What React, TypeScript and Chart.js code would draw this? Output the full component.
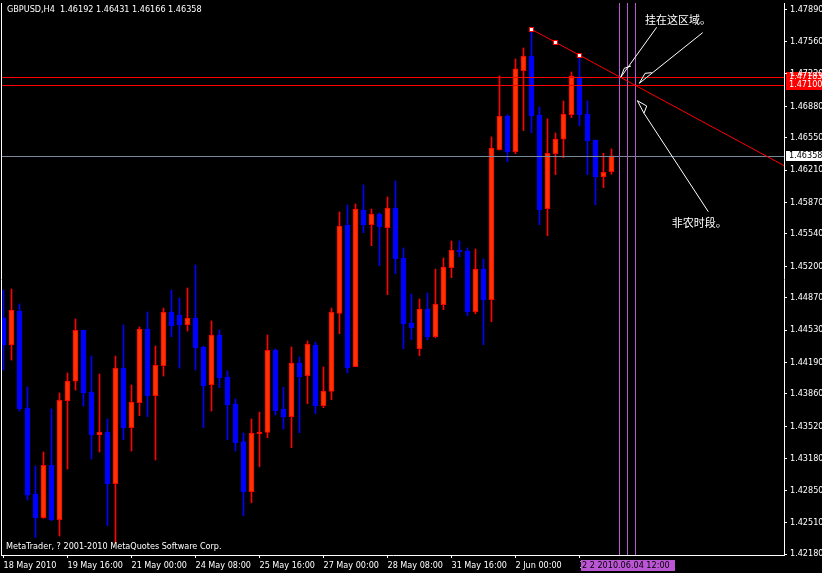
import React, { useEffect, useRef } from "react";
import { Chart, registerables } from "chart.js";
Chart.register(...registerables);

const symbolTitle = "GBPUSD,H4  1.46192 1.46431 1.46166 1.46358";
const copyrightText = "MetaTrader, ? 2001-2010 MetaQuotes Software Corp.";

const opens = [
  1.4466, 1.44374, 1.44731, 1.43712, 1.4281, 1.42561, 1.43111, 1.4254, 1.43789, 1.43993,
  1.44528, 1.4388, 1.43429, 1.43461, 1.42918, 1.44132, 1.43506, 1.43768, 1.44542, 1.43842,
  1.44156, 1.4472, 1.44689, 1.44587, 1.44657, 1.44353, 1.43957, 1.44479, 1.44038, 1.43754,
  1.43359, 1.42834, 1.43443, 1.43457, 1.44321, 1.43702, 1.43621, 1.44185, 1.44051, 1.44374,
  1.43737, 1.43888, 1.44706, 1.45633, 1.44146, 1.45791, 1.45636, 1.45749, 1.45605, 1.45812,
  1.45287, 1.44605, 1.44335, 1.44752, 1.44461, 1.44797, 1.45185, 1.45371, 1.4536, 1.44723,
  1.45171, 1.44849, 1.46424, 1.46777, 1.46403, 1.47253, 1.47407, 1.46788, 1.45804, 1.46382,
  1.46533, 1.46791, 1.47187, 1.46798, 1.46525, 1.4614, 1.46192,
];
const highs = [
  1.44951, 1.44961, 1.44804, 1.43933, 1.43104, 1.43251, 1.43702, 1.4387, 1.4408, 1.44647,
  1.44531, 1.44258, 1.44069, 1.43597, 1.44258, 1.44584, 1.43954, 1.44563, 1.4472, 1.44363,
  1.44762, 1.44951, 1.44867, 1.44972, 1.45213, 1.44363, 1.44626, 1.44531, 1.44101, 1.43807,
  1.4345, 1.43597, 1.4367, 1.44479, 1.44332, 1.4393, 1.44353, 1.44248, 1.44416, 1.44405,
  1.44143, 1.44762, 1.4577, 1.45843, 1.45854, 1.46053, 1.45801, 1.45759, 1.45927, 1.46095,
  1.45392, 1.44909, 1.44856, 1.44919, 1.45171, 1.45287, 1.45465, 1.45465, 1.45392, 1.45381,
  1.45276, 1.46557, 1.47197, 1.4679, 1.47376, 1.47491, 1.47687, 1.46872, 1.46746, 1.46599,
  1.46935, 1.47239, 1.47415, 1.46935, 1.46525, 1.46386, 1.46431,
];
const lows = [
  1.44111, 1.44216, 1.43681, 1.42747, 1.42355, 1.42555, 1.4253, 1.42369, 1.43072, 1.43901,
  1.43733, 1.43177, 1.43251, 1.42477, 1.42296, 1.4338, 1.43261, 1.43632, 1.43621, 1.43167,
  1.44048, 1.44461, 1.44132, 1.44521, 1.44111, 1.43506, 1.43681, 1.43926, 1.4338, 1.43261,
  1.42582, 1.42718, 1.43096, 1.43401, 1.43639, 1.43492, 1.43296, 1.43453, 1.43758, 1.43653,
  1.43716, 1.438, 1.44492, 1.44083, 1.44146, 1.45552, 1.45416, 1.45206, 1.44902, 1.45122,
  1.44335, 1.44429, 1.44261, 1.44429, 1.4445, 1.44744, 1.4508, 1.453, 1.44681, 1.44702,
  1.44377, 1.44618, 1.4642, 1.46298, 1.46382, 1.46623, 1.46602, 1.45636, 1.45521, 1.46161,
  1.4634, 1.46759, 1.46675, 1.46161, 1.45846, 1.46025, 1.46166,
];
const closes = [
  1.44374, 1.44741, 1.43702, 1.42799, 1.42561, 1.43111, 1.4254, 1.43793, 1.43996, 1.44528,
  1.4387, 1.43429, 1.43461, 1.42918, 1.44132, 1.43506, 1.43775, 1.44542, 1.43842, 1.44161,
  1.4472, 1.44576, 1.44587, 1.44657, 1.44345, 1.43947, 1.44479, 1.4403, 1.43747, 1.43348,
  1.42834, 1.4345, 1.43461, 1.44318, 1.43684, 1.43618, 1.44185, 1.44041, 1.44384, 1.43737,
  1.43891, 1.4472, 1.45623, 1.44135, 1.45801, 1.45636, 1.45749, 1.45615, 1.45812, 1.4528,
  1.44597, 1.44555, 1.44752, 1.44461, 1.44804, 1.45192, 1.45371, 1.45353, 1.44723, 1.45171,
  1.44849, 1.46441, 1.46777, 1.46403, 1.47271, 1.47407, 1.4678, 1.45794, 1.46386, 1.46536,
  1.46798, 1.47197, 1.46791, 1.46518, 1.4614, 1.46186, 1.46358,
];

const xTickBars = [0, 8, 16, 24, 32, 40, 48, 56, 64, 72];
const xTickLabels = [
  "18 May 2010", "19 May 16:00", "21 May 00:00", "24 May 08:00", "25 May 16:00",
  "27 May 00:00", "28 May 08:00", "31 May 16:00", "2 Jun 00:00", "3 Jun 08:00",
];
const yTickValues = [
  1.4218, 1.4251, 1.4285, 1.4318, 1.4352, 1.4386, 1.4419, 1.4453, 1.4487,
  1.452, 1.4554, 1.4587, 1.4621, 1.4655, 1.4688, 1.4722, 1.4756, 1.4789,
];
const xRange = [-0.1875, 97.5625];
const yRange = [1.4217, 1.47963];

const bidPrice = 1.46358;
const bidLabel = "1.46358";
const hLineLevels = [1.47183, 1.471];
const hLineLabels = ["1.47183", "1.47100"];
const vLineBars = [77, 78, 79];
const vLineLabel = "2 2 2010.06.04 12:00";
const trendBars = [66, 69, 72];
const trendPrices = [1.47687, 1.47551, 1.47415];
const arrowZone1 = [[81.65, 1.47708], [77.15, 1.47183], [77.6, 1.47278], [78.44, 1.47302]];
const arrowZone2 = [[87.4, 1.47652], [79.475, 1.4712], [80.19, 1.47225], [81.03, 1.47232]];
const arrowNfp = [[88.1, 1.45773], [80.06, 1.46806], [80.4, 1.46882], [79.23, 1.46938], [80.06, 1.46806]];
const noteZone = { text: "挂在这区域。", bar: 80.19, price: 1.47785 };
const noteNfp = { text: "非农时段。", bar: 83.53, price: 1.45659 };

const UI_FONT = "'DejaVu Sans Condensed', 'Liberation Sans', sans-serif";
const UP_FILL = "#FF3300";
const UP_LINE = "#FF0000";
const DOWN = "#0000FF";
const PURPLE = "#BA55D3";

const overlay = {
  id: "mtOverlay",
  beforeDraw(chart: any) {
    const { ctx, width, height, chartArea } = chart;
    const y = chart.scales.y;
    ctx.save();
    ctx.fillStyle = "#000";
    ctx.fillRect(0, 0, width, height);
    ctx.font = `9px ${UI_FONT}`;
    ctx.textBaseline = "middle";
    hLineLevels.forEach((lv, i) => {
      const py = Math.round(y.getPixelForValue(lv));
      ctx.fillStyle = "#FF0000";
      ctx.fillRect(chartArea.right + 2, py - 5, width - chartArea.right - 2, 10);
      ctx.fillStyle = "#fff";
      ctx.fillText(hLineLabels[i], chartArea.right + 5, py);
    });
    ctx.restore();
  },
  afterDatasetsDraw(chart: any) {
    const { ctx, chartArea } = chart;
    const x = chart.scales.x;
    const y = chart.scales.y;
    const px = (b: number) => x.getPixelForValue(b);
    const py = (p: number) => y.getPixelForValue(p);
    ctx.save();
    ctx.lineWidth = 1;
    ctx.strokeStyle = "#FF0000";
    hLineLevels.forEach((lv) => {
      const yy = Math.round(py(lv)) + 0.5;
      ctx.beginPath();
      ctx.moveTo(chartArea.left, yy);
      ctx.lineTo(chartArea.right, yy);
      ctx.stroke();
    });
    ctx.strokeStyle = "#778899";
    {
      const yy = Math.round(py(bidPrice)) + 0.5;
      ctx.beginPath();
      ctx.moveTo(chartArea.left, yy);
      ctx.lineTo(chartArea.right, yy);
      ctx.stroke();
    }
    ctx.strokeStyle = PURPLE;
    vLineBars.forEach((b) => {
      const xx = Math.floor(px(b)) + 0.5;
      ctx.beginPath();
      ctx.moveTo(xx, chartArea.top);
      ctx.lineTo(xx, chartArea.bottom);
      ctx.stroke();
    });
    ctx.save();
    ctx.beginPath();
    ctx.rect(chartArea.left, chartArea.top, chartArea.right - chartArea.left, chartArea.bottom - chartArea.top);
    ctx.clip();
    const slope = (trendPrices[2] - trendPrices[0]) / (trendBars[2] - trendBars[0]);
    const endBar = x.max;
    ctx.strokeStyle = "#FF0000";
    ctx.beginPath();
    ctx.moveTo(px(trendBars[0]), py(trendPrices[0]));
    ctx.lineTo(px(endBar), py(trendPrices[0] + slope * (endBar - trendBars[0])));
    ctx.stroke();
    ctx.restore();
    trendBars.forEach((b, i) => {
      const cx = Math.floor(px(b));
      const cy = Math.round(py(trendPrices[i]));
      ctx.fillStyle = "#FF0000";
      ctx.fillRect(cx - 2, cy - 2, 5, 5);
      ctx.fillStyle = "#fff";
      ctx.fillRect(cx - 1, cy - 1, 3, 3);
    });
    ctx.strokeStyle = "#fff";
    [arrowZone1, arrowZone2, arrowNfp].forEach((pts) => {
      ctx.beginPath();
      pts.forEach((p, i) => {
        const X = px(p[0]);
        const Y = py(p[1]);
        if (i === 0) ctx.moveTo(X, Y);
        else ctx.lineTo(X, Y);
      });
      ctx.stroke();
    });
    ctx.fillStyle = "#fff";
    ctx.font = "11px 'Noto Sans CJK SC'";
    ctx.textBaseline = "middle";
    ctx.textAlign = "left";
    [noteZone, noteNfp].forEach((n) => {
      ctx.fillText(n.text, px(n.bar), py(n.price));
    });
    ctx.restore();
  },
  afterDraw(chart: any) {
    const { ctx, chartArea, width } = chart;
    const x = chart.scales.x;
    const y = chart.scales.y;
    ctx.save();
    ctx.strokeStyle = "#fff";
    ctx.lineWidth = 1;
    ctx.beginPath();
    ctx.moveTo(1.5, chartArea.top);
    ctx.lineTo(1.5, chartArea.bottom + 1);
    ctx.stroke();
    ctx.font = `9px ${UI_FONT}`;
    ctx.textBaseline = "middle";
    ctx.textAlign = "left";
    const by = Math.round(y.getPixelForValue(bidPrice));
    ctx.fillStyle = "#fff";
    ctx.fillRect(chartArea.right + 2, by - 5, width - chartArea.right - 2, 10);
    ctx.fillStyle = "#000";
    ctx.fillText(bidLabel, chartArea.right + 5, by);
    const lx = Math.round(x.getPixelForValue(xTickBars[xTickBars.length - 1])) + 1;
    ctx.fillStyle = PURPLE;
    ctx.fillRect(lx, chartArea.bottom + 5, 94, 11);
    ctx.fillStyle = "#000";
    ctx.fillText(vLineLabel, lx + 1, chartArea.bottom + 11);
    ctx.fillStyle = "#fff";
    ctx.fillText(symbolTitle, 7, 10);
    ctx.fillText(copyrightText, 6, chartArea.bottom - 8);
    ctx.restore();
  },
};

export default function App() {
  const ref = useRef<HTMLCanvasElement | null>(null);
  useEffect(() => {
    if (!ref.current) return;
    const idx = opens.map((_, i) => i);
    const up = idx.map((i) => closes[i] >= opens[i]);
    const chart = new Chart(ref.current, {
      type: "bar",
      data: {
        datasets: [
          {
            label: "body",
            data: idx.map((i) => ({ x: i, y: [opens[i], closes[i]] })) as any,
            backgroundColor: up.map((u) => (u ? UP_FILL : DOWN)),
            borderColor: up.map((u) => (u ? UP_LINE : DOWN)),
            borderWidth: 1,
            borderSkipped: false,
            barThickness: 5,
            grouped: false,
            order: 0,
          } as any,
          {
            label: "wick",
            data: idx.map((i) => ({ x: i, y: [lows[i], highs[i]] })) as any,
            backgroundColor: up.map((u) => (u ? UP_LINE : DOWN)),
            borderWidth: 0,
            barThickness: 1,
            grouped: false,
            order: 1,
          } as any,
        ],
      },
      options: {
        responsive: false,
        animation: false,
        devicePixelRatio: 1,
        events: [],
        layout: { padding: { left: 2, top: 3, right: 0, bottom: 0 } },
        plugins: { legend: { display: false }, tooltip: { enabled: false } },
        scales: {
          x: {
            type: "linear",
            min: xRange[0],
            max: xRange[1],
            offset: false,
            afterBuildTicks: (s: any) => {
              s.ticks = xTickBars.map((v) => ({ value: v }));
            },
            afterFit: (s: any) => {
              s.height = 18;
              s.paddingLeft = 0;
              s.paddingRight = 0;
            },
            grid: { display: true, drawOnChartArea: false, drawTicks: true, tickLength: 3, color: "#fff", offset: false },
            border: { display: true, color: "#fff" },
            ticks: {
              color: "#fff",
              font: { family: UI_FONT, size: 9 },
              align: "start",
              padding: 2,
              autoSkip: false,
              maxRotation: 0,
              minRotation: 0,
              callback: (_v: any, i: number) => xTickLabels[i] ?? "",
            },
          },
          y: {
            type: "linear",
            position: "right",
            min: yRange[0],
            max: yRange[1],
            afterBuildTicks: (s: any) => {
              s.ticks = yTickValues.map((v) => ({ value: v }));
            },
            afterFit: (s: any) => {
              s.width = 38;
              s.paddingTop = 0;
              s.paddingBottom = 0;
            },
            grid: { display: true, drawOnChartArea: false, drawTicks: true, tickLength: 3, color: "#fff" },
            border: { display: true, color: "#fff" },
            ticks: {
              color: "#fff",
              font: { family: UI_FONT, size: 9 },
              padding: 3,
              autoSkip: false,
              callback: (v: any) => Number(v).toFixed(5),
            },
          },
        },
      } as any,
      plugins: [overlay],
    });
    return () => chart.destroy();
  }, []);
  return (
    <div style={{ position: "absolute", left: 0, top: 0, width: 822, height: 573, background: "#000" }}>
      <canvas ref={ref} width={822} height={573} style={{ display: "block", width: 822, height: 573 }} />
    </div>
  );
}
